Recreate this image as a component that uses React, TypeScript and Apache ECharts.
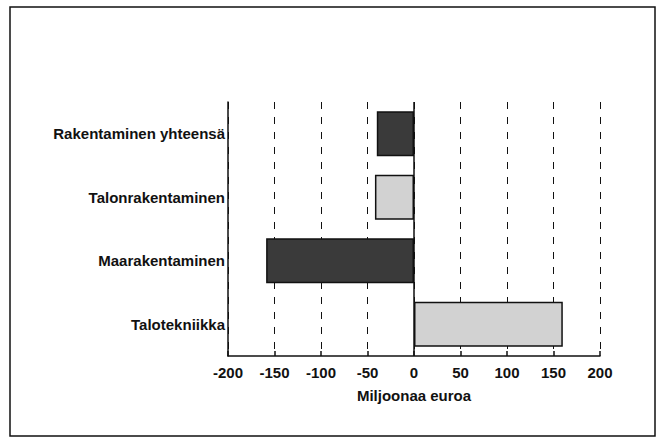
import React, { useEffect, useRef } from "react";
import * as echarts from "echarts";

const categories = ["Talotekniikka", "Maarakentaminen", "Talonrakentaminen", "Rakentaminen yhteensä"];
const values = [160, -159, -42, -40];
const barColors = ["#d2d2d2", "#3a3a3a", "#d2d2d2", "#3a3a3a"];
const axisName = "Miljoonaa euroa";

export default function App() {
  const ref = useRef<HTMLDivElement>(null);
  useEffect(() => {
    if (!ref.current) return;
    const chart = echarts.init(ref.current, undefined, { renderer: "svg" });
    const font = "'Liberation Sans', Arial, sans-serif";
    chart.setOption({
      animation: false,
      backgroundColor: "#ffffff",
      textStyle: { fontFamily: font },
      grid: { left: 228, right: 65, top: 102, bottom: 83, containLabel: false },
      graphic: [
        {
          type: "rect",
          shape: { x: 10, y: 7, width: 645, height: 429 },
          style: { fill: "none", stroke: "#111", lineWidth: 1.5 },
          silent: true,
        },
      ],
      xAxis: {
        type: "value",
        min: -200,
        max: 200,
        interval: 50,
        name: axisName,
        nameLocation: "middle",
        nameGap: 32,
        nameTextStyle: { fontFamily: font, fontWeight: "bold", fontSize: 15, color: "#111" },
        axisLine: { show: true, lineStyle: { color: "#111", width: 1.5 } },
        axisTick: { show: true, inside: true, length: 5, lineStyle: { color: "#111", width: 1.5 } },
        axisLabel: { fontFamily: font, fontWeight: "bold", fontSize: 15, color: "#111", margin: 9 },
        splitLine: { show: true, lineStyle: { color: "#111", width: 1, type: [7, 8] } },
      },
      yAxis: {
        type: "category",
        data: categories,
        axisLine: { show: true, onZero: false, lineStyle: { color: "#111", width: 1.5 } },
        axisTick: { show: false },
        axisLabel: { fontFamily: font, fontWeight: "bold", fontSize: 15, color: "#111", margin: 3 },
        splitLine: { show: false },
      },
      series: [
        {
          type: "bar",
          barWidth: 45,
          data: values.map((v, i) => ({
            value: v,
            itemStyle: { color: barColors[i], borderColor: "#111", borderWidth: 1.5 },
          })),
          markLine: {
            silent: true,
            symbol: "none",
            label: { show: false },
            lineStyle: { color: "#111", width: 1.5, type: "solid" },
            data: [{ xAxis: 0 }],
          },
        },
      ],
    });
    return () => chart.dispose();
  }, []);
  return <div ref={ref} style={{ width: 665, height: 439, position: "absolute", left: 0, top: 0 }} />;
}
